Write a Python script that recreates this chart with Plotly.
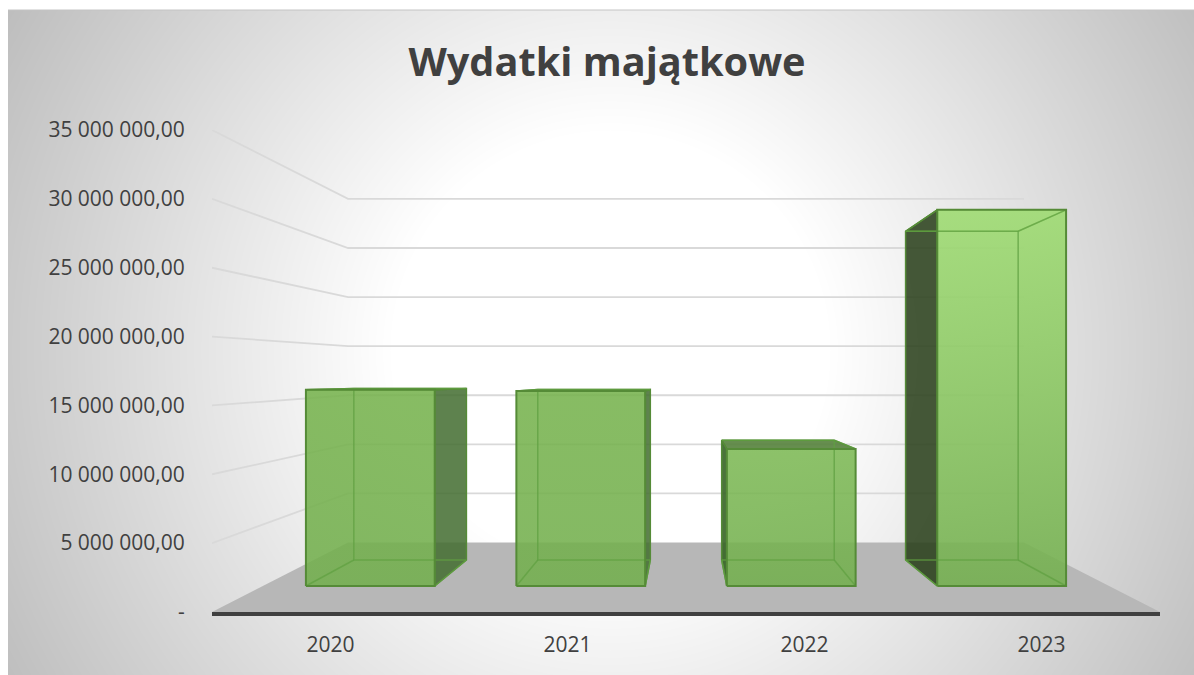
import base64, struct, zlib
import numpy as np
import plotly.graph_objects as go

# ---- data ----
years = ["2020", "2021", "2022", "2023"]
values = [16040000, 15950000, 11210000, 30760000]
tick_values = [0, 5000000, 10000000, 15000000, 20000000, 25000000, 30000000, 35000000]
tick_labels = ["-", "5 000 000,00", "10 000 000,00", "15 000 000,00", "20 000 000,00",
               "25 000 000,00", "30 000 000,00", "35 000 000,00"]
title_text = "Wydatki majątkowe"

# ---- perspective set-up, in axis units ----
W, H = 1194, 675
L, R, T, B = 212, 1160, 130, 612
Y_MAX = tick_values[-1]
X_C = 1.5                  # vanishing point, category units
V_C_WALL = 17570000        # vanishing height for the walls, value units
V_C_BAR = 16850000         # vanishing height for the bars, value units
S_WALL = 0.713             # depth scale of back wall
S_FRONT, S_BACK = 0.888, 0.776   # depth scale of bar front / back
HALF = 0.306               # half bar width in category units


def pr(c, v, s, vc=V_C_BAR):
    return X_C + s * (c - X_C), vc + s * (v - vc)


def wall(c, v, s):
    return pr(c, v, s, V_C_WALL)


def poly(points, **kw):
    xs = [p[0] for p in points]
    ys = [p[1] for p in points]
    return go.Scatter(x=xs, y=ys, mode="lines", showlegend=False, hoverinfo="skip", cliponaxis=False, **kw)


def see_through(hex_color, alpha=0.88):
    """rgba colour that looks like hex_color when laid over white"""
    r, g, b = (int(hex_color[k:k + 2], 16) for k in (1, 3, 5))
    f = lambda x: max(0, round((x - 255 * (1 - alpha)) / alpha))
    return f"rgba({f(r)},{f(g)},{f(b)},{alpha})"


# ---- background: radial grey gradient as a PNG ----
def png_gray(a):
    h, w = a.shape
    raw = b"".join(b"\x00" + a[i].tobytes() for i in range(h))

    def chunk(t, d):
        return struct.pack(">I", len(d)) + t + d + struct.pack(">I", zlib.crc32(t + d) & 0xffffffff)

    return (b"\x89PNG\r\n\x1a\n" + chunk(b"IHDR", struct.pack(">IIBBBBB", w, h, 8, 0, 0, 0, 0))
            + chunk(b"IDAT", zlib.compress(raw, 9)) + chunk(b"IEND", b""))


BX0, BY0 = 8, 10
yy, xx = np.mgrid[BY0:H, BX0:W]
d = np.hypot(xx - 610.0, yy - 350.0)
g = 255 - 66 * np.clip((d - 220) / 480, 0, 1.1)
bg = np.clip(g, 0, 255).astype(np.uint8)
bg_uri = "data:image/png;base64," + base64.b64encode(png_gray(bg)).decode()

fig = go.Figure()

# floor
fig.add_trace(poly([wall(-0.5, 0, 1), wall(-0.5, 0, S_WALL), wall(3.5, 0, S_WALL), wall(3.5, 0, 1), wall(-0.5, 0, 1)],
                   fill="toself", fillcolor="#B7B7B7", line=dict(width=0)))

# wall grid lines
for v in tick_values[1:]:
    fig.add_trace(poly([wall(-0.5, v, 1), wall(-0.5, v, S_WALL), wall(3.5, v, S_WALL)],
                       line=dict(color="#D9D9D9", width=1.8)))

front_tops = ["#87BC63", "#87BC63", "#8DC169", "#A9DF81"]
front_bottoms = ["#84B963", "#84B963", "#84B963", "#84B963"]
side_colors = ["rgba(67,110,49,0.86)", "rgba(67,110,49,0.86)", "rgba(55,100,38,0.9)", "rgba(40,62,24,0.86)"]
top_colors = ["rgba(85,140,55,0.9)", "rgba(85,140,55,0.9)", "rgba(85,130,60,0.9)", "rgba(0,0,0,0)"]
EDGE = "#558B37"
INNER = "rgba(96,160,66,0.75)"

for i, v in enumerate(values):
    c0, c1 = i - HALF, i + HALF
    near_side = c1 if i < X_C else c0
    # side toward the centre
    fig.add_trace(poly([pr(near_side, 0, S_FRONT), pr(near_side, v, S_FRONT), pr(near_side, v, S_BACK),
                        pr(near_side, 0, S_BACK), pr(near_side, 0, S_FRONT)],
                       fill="toself", fillcolor=side_colors[i], line=dict(color=EDGE, width=1.5)))
    # top
    fig.add_trace(poly([pr(c0, v, S_FRONT), pr(c1, v, S_FRONT), pr(c1, v, S_BACK), pr(c0, v, S_BACK),
                        pr(c0, v, S_FRONT)],
                       fill="toself", fillcolor=top_colors[i], line=dict(color=EDGE, width=1.5)))
    # front face
    f = [pr(c0, 0, S_FRONT), pr(c1, 0, S_FRONT), pr(c1, v, S_FRONT), pr(c0, v, S_FRONT), pr(c0, 0, S_FRONT)]
    fig.add_trace(poly(f, fill="toself", line=dict(width=0),
                       fillgradient=dict(type="vertical",
                                         colorscale=[[0, see_through(front_bottoms[i])],
                                                     [1, see_through(front_tops[i])]])))
    # inner edges seen through the front
    far_side = c0 if i < X_C else c1
    inner = [pr(far_side, v, S_BACK), pr(far_side, 0, S_BACK), pr(near_side, 0, S_BACK), (None, None),
             pr(far_side, 0, S_BACK), pr(far_side, 0, S_FRONT), (None, None),
             pr(near_side, 0, S_BACK), pr(near_side, 0, S_FRONT), (None, None),
             pr(far_side, v, S_BACK), pr(far_side, v, S_FRONT), (None, None),
             pr(far_side, v, S_BACK), pr(near_side, v, S_BACK)]
    fig.add_trace(poly(inner, line=dict(color=INNER, width=1.5)))
    # front outline
    fig.add_trace(poly(f, line=dict(color=EDGE, width=2)))

fig.update_layout(
    width=W, height=H,
    autosize=False,
    margin=dict(l=L, r=W - R, t=T, b=H - B, pad=0),
    paper_bgcolor="white",
    plot_bgcolor="rgba(0,0,0,0)",
    showlegend=False,
    font=dict(family="Open Sans", size=21, color="#404040"),
    title=dict(text=f"<b>{title_text}</b>", x=607 / W, xanchor="center", y=1 - 62 / H, yanchor="middle",
               xref="container", yref="container",
               font=dict(family="Open Sans", size=39.7, color="#404040")),
    xaxis=dict(range=[-0.5, 3.5], tickmode="array", tickvals=list(range(len(years))), ticktext=years,
               showgrid=False, zeroline=False, showline=True, linecolor="#404040", linewidth=3.5,
               ticks="outside", ticklen=11, tickcolor="rgba(0,0,0,0)"),
    yaxis=dict(range=[0, Y_MAX], tickmode="array", tickvals=tick_values, ticktext=tick_labels,
               showgrid=False, zeroline=False, showline=False,
               ticks="outside", ticklen=22, tickcolor="rgba(0,0,0,0)"),
    images=[dict(source=bg_uri, xref="paper", yref="paper",
                 x=(BX0 - L) / (R - L), y=(B - BY0) / (B - T),
                 sizex=(W - BX0) / (R - L), sizey=(H - BY0) / (B - T),
                 xanchor="left", yanchor="top", sizing="stretch", layer="below")],
    shapes=[dict(type="line", xref="paper", yref="paper",
                 x0=(BX0 - L) / (R - L), x1=(W - L) / (R - L),
                 y0=(B - BY0) / (B - T), y1=(B - BY0) / (B - T),
                 line=dict(color="#C4C4C4", width=1), layer="below")],
)

fig.write_html("out.html", config={"displayModeBar": False},
               post_script="document.body.style.margin='0';document.body.style.overflow='hidden';")
